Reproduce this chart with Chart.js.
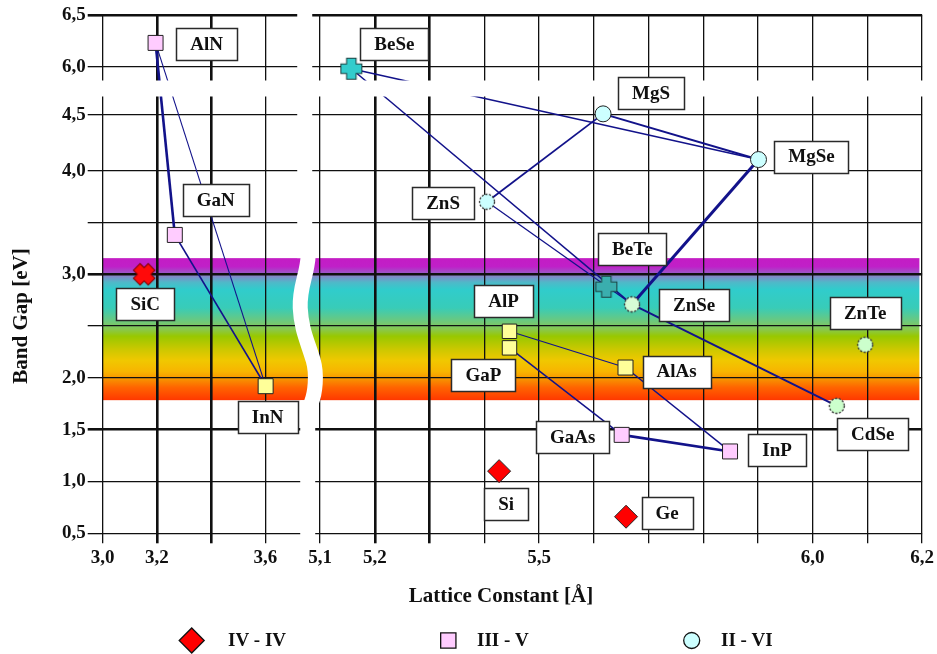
<!DOCTYPE html>
<html>
<head>
<meta charset="utf-8">
<script src="https://cdn.jsdelivr.net/npm/chart.js@4/dist/chart.umd.min.js"></script>
<style>
  html, body { margin: 0; padding: 0; background: #fff; }
  canvas { display: block; }
</style>
</head>
<body>
<canvas id="gapChart" width="937" height="654"></canvas>
<script>
// Band gap (eV) versus lattice constant (Å) of common binary semiconductors
const ivNames   = ['SiC', 'Si', 'Ge'];
const ivLattice = [3.153, 5.427, 5.659];
const ivGap     = [3.00, 1.10, 0.66];

const iiivNames   = ['AlN', 'GaN', 'InN', 'AlP', 'GaP', 'AlAs', 'GaAs', 'InP'];
const iiivLattice = [3.195, 3.266, 3.601, 5.446, 5.446, 5.658, 5.651, 5.849];
const iiivGap     = [6.23, 3.38, 1.92, 2.45, 2.29, 2.10, 1.45, 1.29];

const iiviNames   = ['BeSe', 'MgS', 'MgSe', 'ZnS', 'BeTe', 'ZnSe', 'ZnTe', 'CdSe'];
const iiviLattice = [5.157, 5.617, 5.901, 5.405, 5.623, 5.670, 6.096, 6.044];
const iiviGap     = [5.98, 4.51, 4.10, 3.70, 2.88, 2.71, 2.32, 1.73];

// ternary alloy tie lines between binaries
const alloyLines = [
  ['AlN', 'GaN'], ['AlN', 'InN'], ['GaN', 'InN'],
  ['AlP', 'AlAs'], ['GaP', 'GaAs'], ['AlAs', 'InP'], ['GaAs', 'InP'],
  ['BeSe', 'MgSe'], ['BeSe', 'ZnSe'], ['ZnS', 'MgS'], ['ZnS', 'ZnSe'],
  ['MgS', 'MgSe'], ['MgSe', 'ZnSe'], ['ZnSe', 'CdSe']
];

// visible spectrum band (eV)
const visibleBand = [1.785, 3.156];

const xTickValues = [3.0, 3.2, 3.4, 3.6, 5.1, 5.2, 5.3, 5.4, 5.5, 5.6, 5.7, 5.8, 5.9, 6.0, 6.1, 6.2];
const xTickLabels = ['3,0', '3,2', '', '3,6', '5,1', '5,2', '', '', '5,5', '', '', '', '', '6,0', '', '6,2'];
const yTickValues = [0.5, 1.0, 1.5, 2.0, 2.5, 3.0, 3.5, 4.0, 4.5, 6.0, 6.5];
const yTickLabels = ['0,5', '1,0', '1,5', '2,0', '', '3,0', '', '4,0', '4,5', '6,0', '6,5'];

const legendLabels = ['IV - IV', 'III - V', 'II - VI'];

// ---------- styling ----------
const SERIF = '"Liberation Serif", "Times New Roman", serif';
const INK = '#101010';
const LINE_BLUE = '#12128a';

// broken axes: [value, fraction of axis length]
const axisKnots = {
  x: [[3.0, 0], [3.6, 0.1985], [3.727, 0.2423], [5.08, 0.2520], [6.2, 1]],
  y: [[0.5, 0], [4.0, 0.6996], [4.5, 0.8071], [4.66, 0.8418], [5.87, 0.8746], [6.0, 0.9003], [6.5, 1]]
};
const thickX = [3.2, 3.4, 5.2, 5.3];
const thickY = [6.5, 3.0, 1.5];

class BrokenScale extends Chart.LinearScale {
  static id = 'broken';
  _toFraction(v) {
    const k = axisKnots[this.id];
    let i = 1;
    while (i < k.length - 1 && v > k[i][0]) i++;
    const [v0, f0] = k[i - 1], [v1, f1] = k[i];
    return f0 + (v - v0) * (f1 - f0) / (v1 - v0);
  }
  _fromFraction(f) {
    const k = axisKnots[this.id];
    let i = 1;
    while (i < k.length - 1 && f > k[i][1]) i++;
    const [v0, f0] = k[i - 1], [v1, f1] = k[i];
    return v0 + (f - f0) * (v1 - v0) / (f1 - f0);
  }
  getPixelForValue(value) {
    if (value === null || value === undefined || isNaN(value)) return NaN;
    return this.getPixelForDecimal(this._toFraction(value));
  }
  getValueForPixel(pixel) {
    return this._fromFraction(this.getDecimalForPixel(pixel));
  }
}
Chart.register(BrokenScale);

// special marker glyphs
function markerCanvas(size, paint) {
  const c = document.createElement('canvas');
  c.width = size; c.height = size;
  const g = c.getContext('2d');
  g.translate(size / 2, size / 2);
  paint(g);
  return c;
}
function crossMarker(fill, edge, rotation) {
  return markerCanvas(28, g => {
    g.rotate(rotation);
    g.lineCap = 'butt';
    g.strokeStyle = edge; g.lineWidth = 10.5;
    g.beginPath(); g.moveTo(-11, 0); g.lineTo(11, 0); g.moveTo(0, -11); g.lineTo(0, 11); g.stroke();
    g.strokeStyle = fill; g.lineWidth = 8.5;
    g.beginPath(); g.moveTo(-10, 0); g.lineTo(10, 0); g.moveTo(0, -10); g.lineTo(0, 10); g.stroke();
  });
}
function dashedCircle(fill) {
  return markerCanvas(20, g => {
    g.beginPath(); g.arc(0, 0, 7.5, 0, Math.PI * 2);
    g.fillStyle = fill; g.fill();
    g.setLineDash([2.2, 1.5]); g.lineWidth = 1.3; g.strokeStyle = '#333'; g.stroke();
  });
}
const sicGlyph = crossMarker('#ff0a0a', '#7a0000', Math.PI / 4);
const beseGlyph = crossMarker('#33cccc', '#1c3f3f', 0);
const beteGlyph = crossMarker('#3aaeae', '#1c3f3f', 0);

const RED = '#ff0000', PINK = '#ffccff', YELLOW = '#ffff99', CYAN = '#ccffff', MINT = '#ccffcc';
const markerLook = {
  SiC:  { style: sicGlyph, r: 10, fill: RED },
  Si:   { style: 'rectRot', r: 11.5, fill: RED },
  Ge:   { style: 'rectRot', r: 11.5, fill: RED },
  AlN:  { style: 'rect', r: 10.6, fill: PINK },
  GaN:  { style: 'rect', r: 10.6, fill: PINK },
  InN:  { style: 'rect', r: 10.6, fill: YELLOW },
  AlP:  { style: 'rect', r: 10.2, fill: YELLOW },
  GaP:  { style: 'rect', r: 10.2, fill: YELLOW },
  AlAs: { style: 'rect', r: 10.6, fill: YELLOW },
  GaAs: { style: 'rect', r: 10.6, fill: PINK },
  InP:  { style: 'rect', r: 10.6, fill: PINK },
  BeSe: { style: beseGlyph, r: 10, fill: '#33cccc' },
  MgS:  { style: 'circle', r: 8, fill: CYAN },
  MgSe: { style: 'circle', r: 8, fill: CYAN },
  ZnS:  { style: dashedCircle(CYAN), r: 8, fill: CYAN },
  BeTe: { style: beteGlyph, r: 10, fill: '#3aaeae' },
  ZnSe: { style: dashedCircle('#d6fcd6'), r: 8, fill: MINT },
  ZnTe: { style: dashedCircle(MINT), r: 8, fill: MINT },
  CdSe: { style: dashedCircle(MINT), r: 8, fill: MINT }
};

// label box placement relative to the marker (px)
const labelOffset = {
  AlN: [51, 1], GaN: [41, -35], SiC: [1, 30], InN: [2, 31],
  BeSe: [43, -25], MgS: [48, -21], MgSe: [53, -3], ZnS: [-44, 1],
  BeTe: [26, -38], ZnSe: [62, 1], ZnTe: [0, -32], CdSe: [36, 28],
  AlP: [-6, -30], GaP: [-26, 27], AlAs: [51, 4], GaAs: [-49, 2],
  InP: [47, -1], Si: [7, 33], Ge: [41, -4]
};

const lineWidths = {
  'AlN-GaN': 2.6, 'AlN-InN': 1.1, 'GaN-InN': 1.7,
  'AlP-AlAs': 1.1, 'GaP-GaAs': 1.5, 'AlAs-InP': 1.5, 'GaAs-InP': 2.6,
  'BeSe-MgSe': 1.5, 'BeSe-ZnSe': 1.5, 'ZnS-MgS': 1.8, 'ZnS-ZnSe': 1.3,
  'MgS-MgSe': 2.0, 'MgSe-ZnSe': 3.0, 'ZnSe-CdSe': 2.0
};

// ---------- datasets ----------
const compounds = {};
[[ivNames, ivLattice, ivGap], [iiivNames, iiivLattice, iiivGap], [iiviNames, iiviLattice, iiviGap]]
  .forEach(([names, lat, gap]) => names.forEach((n, i) => { compounds[n] = { x: lat[i], y: gap[i] }; }));

function markerDataset(label, names, lat, gap) {
  return {
    label,
    data: names.map((n, i) => ({ x: lat[i], y: gap[i], name: n })),
    showLine: false,
    pointStyle: names.map(n => markerLook[n].style),
    pointRadius: names.map(n => markerLook[n].r),
    pointBackgroundColor: names.map(n => markerLook[n].fill),
    pointBorderColor: '#222',
    pointBorderWidth: 1,
    order: 0
  };
}

const lineDatasets = alloyLines.map(([a, b]) => ({
  label: a + '-' + b,
  data: [compounds[a], compounds[b]],
  showLine: true,
  borderColor: LINE_BLUE,
  borderWidth: lineWidths[a + '-' + b],
  pointRadius: 0,
  fill: false,
  order: 1
}));

const markerSets = [
  markerDataset(legendLabels[0], ivNames, ivLattice, ivGap),
  markerDataset(legendLabels[1], iiivNames, iiivLattice, iiivGap),
  markerDataset(legendLabels[2], iiviNames, iiviLattice, iiviGap)
];

const isIn = (list, v) => list.some(t => Math.abs(t - v) < 1e-6);

// ---------- decorations: spectrum band, axis breaks, labels, titles, legend ----------
const decor = {
  id: 'decor',
  beforeDraw(chart) {
    const { ctx, scales: { x, y } } = chart;
    const x0 = x.getPixelForValue(3.0), x1 = x.getPixelForValue(6.195);
    const yT = y.getPixelForValue(visibleBand[1]), yB = y.getPixelForValue(visibleBand[0]);
    const g = ctx.createLinearGradient(0, yT, 0, yB);
    [[0.00, '#c41cc4'], [0.06, '#c020c8'], [0.10, '#a050c8'], [0.12, '#8a80c8'],
     [0.17, '#50b8c8'], [0.22, '#30cccc'], [0.35, '#38ccb8'], [0.45, '#70c878'],
     [0.50, '#88c850'], [0.55, '#98c800'], [0.65, '#d0c800'], [0.72, '#f0c800'],
     [0.80, '#f8b400'], [0.86, '#f88c00'], [0.91, '#ff6400'], [1.00, '#ff3800']]
      .forEach(([o, c]) => g.addColorStop(o, c));
    ctx.save();
    ctx.fillStyle = g;
    ctx.fillRect(x0, yT, x1 - x0, yB - yT);
    ctx.restore();
  },
  beforeDatasetsDraw(chart) {
    const { ctx, chartArea: a, scales: { x, y } } = chart;
    const yT = y.getPixelForValue(visibleBand[1]), yB = y.getPixelForValue(visibleBand[0]);
    const gx = (x.getPixelForValue(3.727) + x.getPixelForValue(5.08)) / 2;
    ctx.save();
    ctx.fillStyle = '#fff';
    // straight break above and below the band
    ctx.fillRect(gx - 8, a.top - 4, 15, yT - a.top + 4);
    ctx.fillRect(gx - 5, yB, 15, a.bottom - yB + 14);
    // wavy break through the band
    ctx.strokeStyle = '#fff';
    ctx.lineWidth = 15;
    ctx.lineCap = 'round';
    ctx.lineJoin = 'round';
    const f = (t) => yT + t * (yB - yT);
    ctx.beginPath();
    ctx.moveTo(gx + 3, f(-0.02));
    ctx.bezierCurveTo(gx + 2, f(0.12), gx - 6, f(0.2), gx - 5, f(0.35));
    ctx.bezierCurveTo(gx - 4, f(0.5), gx + 2, f(0.58), gx + 8, f(0.72));
    ctx.bezierCurveTo(gx + 12, f(0.82), gx + 10, f(0.95), gx + 6, f(1.02));
    ctx.stroke();
    ctx.restore();
  },
  afterDatasetsDraw(chart) {
    const { ctx, chartArea: a, scales: { x, y } } = chart;
    ctx.save();
    // horizontal axis break
    const gy0 = y.getPixelForValue(5.87), gy1 = y.getPixelForValue(4.66);
    ctx.fillStyle = '#fff';
    ctx.fillRect(a.left - 20, gy0 + 0.5, a.right - a.left + 24, gy1 - gy0 - 1);

    // compound labels
    ctx.font = 'bold 19px ' + SERIF;
    ctx.textAlign = 'center';
    ctx.textBaseline = 'middle';
    Object.keys(labelOffset).forEach(n => {
      const p = compounds[n];
      const cx = x.getPixelForValue(p.x) + labelOffset[n][0];
      const cy = y.getPixelForValue(p.y) + labelOffset[n][1];
      const w = Math.round(ctx.measureText(n).width + 28), h = 32;
      const bx = Math.round(cx - w / 2) + 0.5, by = Math.round(cy - h / 2) + 0.5;
      ctx.fillStyle = '#fff';
      ctx.fillRect(bx, by, w, h);
      ctx.strokeStyle = '#2a2a2a';
      ctx.lineWidth = 1.5;
      ctx.strokeRect(bx, by, w, h);
      ctx.fillStyle = INK;
      ctx.fillText(n, cx, cy + 1);
    });

    // axis titles
    ctx.font = 'bold 21px ' + SERIF;
    ctx.fillStyle = INK;
    ctx.fillText('Lattice Constant [Å]', 501, 597);
    ctx.save();
    ctx.translate(22, 316);
    ctx.rotate(-Math.PI / 2);
    ctx.fillText('Band Gap [eV]', 0, 0);
    ctx.restore();

    // legend
    const items = [
      { mx: 191.7, tx: 228, style: 'rectRot', r: 12.5, fill: RED },
      { mx: 448.3, tx: 477, style: 'rect', r: 10.8, fill: PINK },
      { mx: 691.7, tx: 721, style: 'circle', r: 8, fill: CYAN }
    ];
    ctx.font = 'bold 19px ' + SERIF;
    ctx.textAlign = 'left';
    items.forEach((it, i) => {
      ctx.fillStyle = it.fill;
      ctx.strokeStyle = '#111';
      ctx.lineWidth = 1.3;
      Chart.helpers.drawPoint(ctx, { pointStyle: it.style, radius: it.r, borderWidth: 1.3, rotation: 0 }, it.mx, 640.5);
      ctx.fillStyle = INK;
      ctx.fillText(legendLabels[i], it.tx, 641.5);
    });
    ctx.restore();
  }
};

new Chart(document.getElementById('gapChart'), {
  type: 'scatter',
  data: { datasets: [...markerSets, ...lineDatasets] },
  plugins: [decor],
  options: {
    responsive: false,
    animation: false,
    events: [],
    layout: { padding: { left: 0, right: 13, top: 15, bottom: 0 } },
    plugins: { legend: { display: false }, tooltip: { enabled: false } },
    scales: {
      x: {
        type: 'broken',
        min: 3.0,
        max: 6.2,
        afterBuildTicks: s => { s.ticks = xTickValues.map(v => ({ value: v })); },
        afterFit: s => { s.height = 120.7; },
        border: { display: false },
        grid: {
          color: INK,
          lineWidth: c => (c.tick && isIn(thickX, c.tick.value)) ? 2.6 : 1.3,
          tickLength: 10
        },
        ticks: {
          autoSkip: false,
          maxRotation: 0,
          minRotation: 0,
          padding: 3,
          color: INK,
          font: { family: SERIF, size: 19, weight: 'bold' },
          callback: (v, i) => xTickLabels[i]
        }
      },
      y: {
        type: 'broken',
        min: 0.5,
        max: 6.5,
        afterBuildTicks: s => { s.ticks = yTickValues.map(v => ({ value: v })); },
        afterFit: s => { s.width = 102.7; },
        border: { display: false },
        grid: {
          color: INK,
          lineWidth: c => (c.tick && isIn(thickY, c.tick.value)) ? 2.6 : 1.3,
          tickLength: 15
        },
        ticks: {
          autoSkip: false,
          padding: 2,
          color: INK,
          font: { family: SERIF, size: 19, weight: 'bold' },
          callback: (v, i) => yTickLabels[i]
        }
      }
    }
  }
});
</script>
</body>
</html>
